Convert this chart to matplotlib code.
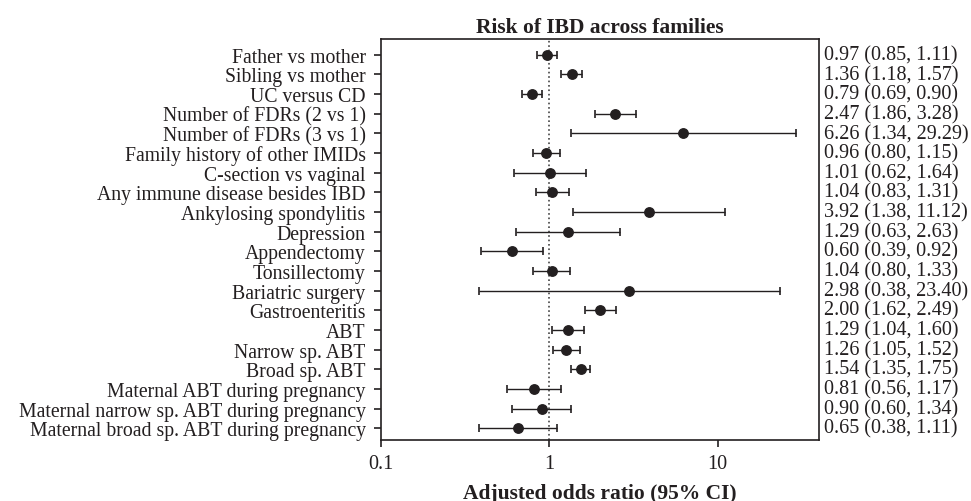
import matplotlib
matplotlib.use("Agg")
import matplotlib.pyplot as plt
import numpy as np

labels = ['Father vs mother', 'Sibling vs mother', 'UC versus CD',
          'Number of FDRs (2 vs 1)', 'Number of FDRs (3 vs 1)',
          'Family history of other IMIDs', 'C-section vs vaginal',
          'Any immune disease besides IBD', 'Ankylosing spondylitis',
          'Depression', 'Appendectomy', 'Tonsillectomy', 'Bariatric surgery',
          'Gastroenteritis', 'ABT', 'Narrow sp. ABT', 'Broad sp. ABT',
          'Maternal ABT during pregnancy',
          'Maternal narrow sp. ABT during pregnancy',
          'Maternal broad sp. ABT during pregnancy']
odds = [0.97, 1.36, 0.79, 2.47, 6.26, 0.96, 1.01, 1.04, 3.92, 1.29,
        0.60, 1.04, 2.98, 2.00, 1.29, 1.26, 1.54, 0.81, 0.90, 0.65]
lower = [0.85, 1.18, 0.69, 1.86, 1.34, 0.80, 0.62, 0.83, 1.38, 0.63,
         0.39, 0.80, 0.38, 1.62, 1.04, 1.05, 1.35, 0.56, 0.60, 0.38]
upper = [1.11, 1.57, 0.90, 3.28, 29.29, 1.15, 1.64, 1.31, 11.12, 2.63,
         0.92, 1.33, 23.40, 2.49, 1.60, 1.52, 1.75, 1.17, 1.34, 1.11]

plt.rcParams['font.family'] = ['Liberation Serif', 'DejaVu Serif']
fs = 14.2
ink = '#231f20'

odds = np.array(odds)
lower = np.array(lower)
upper = np.array(upper)
y = np.arange(len(labels))

fig = plt.figure(figsize=(9.71, 5.02), dpi=100)
ax = fig.add_axes([0.3924, 0.1215, 0.4511, 0.7988])
ax.set_xscale('log')
ax.axvline(1, color='#444444', linestyle=':', linewidth=1.2, zorder=1)
ax.errorbar(odds, y, xerr=[odds - lower, upper - odds], fmt='o', color=ink,
            ecolor=ink, elinewidth=1, capsize=2.9, capthick=1.2,
            markersize=6.8, zorder=3)
ax.set_xlim(0.1, 40)
ax.set_ylim(len(labels) - 0.4, -0.8)
ax.set_yticks(y)
ax.set_yticklabels(labels, fontsize=fs, color=ink)
ax.set_xticks([0.1, 1, 10])
ax.set_xticklabels(['0.1', '1', '10'], fontsize=14.5, color=ink)
ax.minorticks_off()
ax.tick_params(axis='both', direction='out', length=5, width=1.2, color=ink)
ax.tick_params(axis='y', pad=6)
ax.tick_params(axis='x', pad=5)
for s in ax.spines.values():
    s.set_linewidth(1.2)
    s.set_color(ink)

for i in range(len(labels)):
    ax.text(1.012, i, '%.2f (%.2f, %.2f)' % (odds[i], lower[i], upper[i]),
            transform=ax.get_yaxis_transform(), va='center', ha='left',
            fontsize=14.5, color=ink)

ax.set_title('Risk of IBD across families', fontsize=15.5, fontweight='bold',
             color=ink, pad=5)
ax.set_xlabel('Adjusted odds ratio (95% CI)', fontsize=15.5, fontweight='bold',
              color=ink, labelpad=7)

plt.savefig('out.png', dpi=100)
